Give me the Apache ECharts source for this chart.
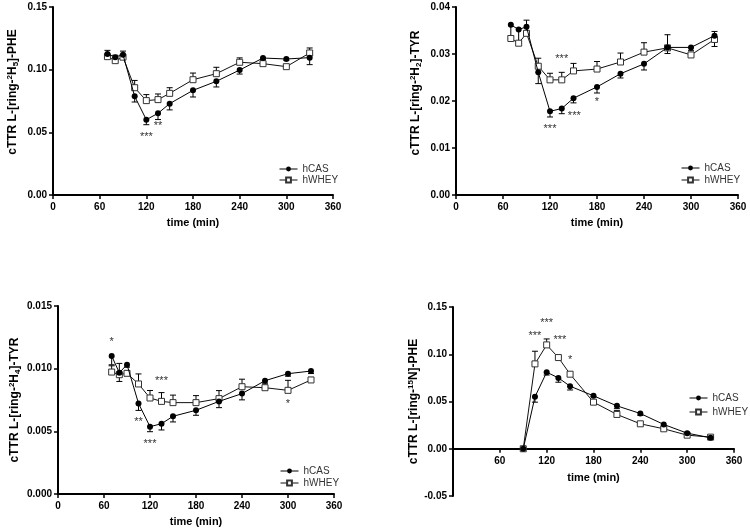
<!DOCTYPE html>
<html><head><meta charset="utf-8">
<script src="https://cdn.jsdelivr.net/npm/echarts@6/dist/echarts.min.js"></script>
<style>html,body{margin:0;padding:0;background:#fff}#c{width:750px;height:531px}</style>
</head><body><div id="c"></div>
<script>
// ---- data ----
const timeA = [70, 80, 90, 105, 120, 135, 150, 180, 210, 240, 270, 300, 330];
const timeB = [90, 105, 120, 135, 150, 180, 210, 240, 270, 300, 330];

// Panel 1: L-[ring-2H5]-PHE
const p1Cas      = [0.1125, 0.110, 0.112, 0.0787, 0.0601, 0.0652, 0.0729, 0.0835, 0.0907, 0.0997, 0.1093, 0.1085, 0.1096];
const p1CasErr   = [0.001, 0.003, 0.001, 0.0045, 0.004, 0.005, 0.005, 0.0053, 0.0045, 0.0032, 0.001, 0.001, 0.0056];
const p1Whey     = [0.1104, 0.1072, 0.110, 0.0856, 0.0753, 0.0761, 0.0811, 0.092, 0.0968, 0.1059, 0.1048, 0.1024, 0.1133];
const p1WheyErr  = [0.005, 0.0043, 0.0048, 0.0058, 0.0048, 0.0045, 0.0045, 0.0053, 0.0051, 0.0035, 0.001, 0.001, 0.004];
const p1Stars    = [[120, 0.046, '***'], [135, 0.0548, '**']];

// Panel 2: L-[ring-2H2]-TYR
const p2Cas      = [0.0362, 0.0352, 0.0358, 0.0261, 0.0178, 0.0184, 0.0206, 0.0230, 0.0258, 0.0279, 0.0314, 0.0314, 0.0339];
const p2CasErr   = [0.003, 0.003, 0.001, 0.0024, 0.0012, 0.0011, 0.001, 0.0013, 0.0009, 0.0013, 0.0013, 0.0007, 0.0023];
const p2Whey     = [0.0333, 0.0323, 0.0344, 0.0274, 0.0245, 0.0245, 0.0264, 0.0268, 0.0283, 0.0304, 0.0313, 0.0298, 0.0331];
const p2WheyErr  = [0.0005, 0.0004, 0.0028, 0.0017, 0.0014, 0.0016, 0.0016, 0.0016, 0.0019, 0.002, 0.0028, 0.0004, 0.0017];
const p2Stars    = [[135, 0.029, '***'], [120, 0.014, '***'], [151, 0.0169, '***'], [180, 0.0199, '*']];

// Panel 3: L-[ring-2H4]-TYR
const p3Cas      = [0.01101, 0.00968, 0.01032, 0.00723, 0.00537, 0.00561, 0.00620, 0.00668, 0.00739, 0.00801, 0.00904, 0.00960, 0.00981];
const p3CasErr   = [0.0007, 0.0007, 0.0002, 0.00056, 0.0004, 0.0005, 0.00045, 0.0004, 0.0005, 0.0005, 0.0002, 0.0002, 0.0002];
const p3Whey     = [0.00973, 0.00952, 0.00963, 0.00878, 0.00766, 0.00739, 0.00729, 0.00729, 0.00761, 0.00856, 0.00848, 0.00827, 0.00910];
const p3WheyErr  = [0.0005, 0.0009, 0.0002, 0.0008, 0.0006, 0.0007, 0.0006, 0.00056, 0.00064, 0.0006, 0.0002, 0.0008, 0.0002];
const p3Stars    = [[70, 0.0121, '*'], [135, 0.0090, '***'], [105, 0.00577, '**'], [120, 0.0040, '***'], [300, 0.0072, '*']];

// Panel 4: L-[ring-15N]-PHE
const p4Cas      = [0, 0.0549, 0.0810, 0.0750, 0.0662, 0.0560, 0.0454, 0.0373, 0.0257, 0.0165, 0.0116];
const p4CasErr   = [0, 0.0056, 0.003, 0.0046, 0.004, 0.001, 0.003, 0.002, 0.002, 0.001, 0.001];
const p4Whey     = [0, 0.0898, 0.1099, 0.0965, 0.0789, 0.0493, 0.0363, 0.0264, 0.0211, 0.0144, 0.0123];
const p4WheyErr  = [0, 0.0134, 0.0063, 0.002, 0.002, 0.002, 0.004, 0.001, 0.001, 0.001, 0.001];
const p4Stars    = [[105, 0.1197, '***'], [120, 0.1331, '***'], [137, 0.1148, '***'], [150, 0.094, '*']];

const yNames = [
  'cTTR L-[ring-{sup|2}H{sub|5}]-PHE',
  'cTTR L-[ring-{sup|2}H{sub|2}]-TYR',
  'cTTR L-[ring-{sup|2}H{sub|4}]-TYR',
  'cTTR L-[ring-{sup|15}N]-PHE'
];
const yRanges = [[0, 0.15, 0.05, 2], [0, 0.04, 0.01, 2], [0, 0.015, 0.005, 3], [-0.05, 0.15, 0.05, 2]];

// ---- layout ----
const FONT = '"Liberation Sans", Arial, sans-serif';
const grids = [
  {left: 53, top: 7, width: 280, height: 188},
  {left: 456, top: 7, width: 282, height: 188},
  {left: 58, top: 306, width: 276, height: 188},
  {left: 453, top: 307, width: 281, height: 189}
];
const yNameGaps = [33, 33, 36, 31];
const yNameShift = [18, 16, 0, 0];
const xNameGaps = [22, 22, 22, -24];
const xLabelMargins = [7, 7, 7, -40];
const legendPos = [
  {left: 274, top: 159, itemGap: 1},
  {left: 676, top: 158, itemGap: 2},
  {left: 275, top: 461, itemGap: 2},
  {left: 684, top: 388, itemGap: 4}
];

const panels = [
  {t: timeA, cas: p1Cas, casE: p1CasErr, whey: p1Whey, wheyE: p1WheyErr, stars: p1Stars},
  {t: timeA, cas: p2Cas, casE: p2CasErr, whey: p2Whey, wheyE: p2WheyErr, stars: p2Stars},
  {t: timeA, cas: p3Cas, casE: p3CasErr, whey: p3Whey, wheyE: p3WheyErr, stars: p3Stars},
  {t: timeB, cas: p4Cas, casE: p4CasErr, whey: p4Whey, wheyE: p4WheyErr, stars: p4Stars}
];

function errRender(dir) {
  return function (params, api) {
    const x = api.value(0), y = api.value(1), e = api.value(2);
    if (!e) return null;
    const p0 = api.coord([x, y]);
    const p1 = api.coord([x, y + dir * e]);
    const w = 3;
    return {type: 'group', children: [
      {type: 'line', shape: {x1: p0[0], y1: p0[1], x2: p1[0], y2: p1[1]}, style: {stroke: '#000', lineWidth: 1}},
      {type: 'line', shape: {x1: p1[0] - w, y1: p1[1], x2: p1[0] + w, y2: p1[1]}, style: {stroke: '#000', lineWidth: 1}}
    ]};
  };
}
function starRender(params, api) {
  const p = api.coord([api.value(0), api.value(1)]);
  return {type: 'text', x: p[0], y: p[1], style: {
    text: String(api.value(2)), fill: '#333', font: '11px ' + FONT, align: 'center', verticalAlign: 'middle'
  }};
}

const xAxis = [], yAxis = [], series = [], legend = [];
panels.forEach((pn, i) => {
  const r = yRanges[i];
  xAxis.push({
    type: 'value', gridIndex: i, min: 0, max: 360, interval: 60,
    name: 'time (min)', nameLocation: 'middle', nameGap: xNameGaps[i],
    nameTextStyle: {fontFamily: FONT, fontWeight: 'bold', fontSize: 11, color: '#000'},
    axisLine: {onZero: true, lineStyle: {color: '#000', width: 2}},
    axisTick: {show: true, length: 4, lineStyle: {color: '#000', width: 1.5}},
    axisLabel: {fontFamily: FONT, fontWeight: 'bold', fontSize: 10, color: '#000', margin: xLabelMargins[i], showMinLabel: i !== 3},
    splitLine: {show: false}
  });
  yAxis.push({
    type: 'value', gridIndex: i, min: r[0], max: r[1], interval: r[2],
    name: yNames[i], nameLocation: 'middle', nameGap: yNameGaps[i], nameRotate: 90,
    nameTextStyle: {fontFamily: FONT, fontWeight: 'bold', fontSize: 12, color: '#000', lineHeight: 14,
      padding: [0, 0, 0, yNameShift[i]],
      rich: {
        sup: {fontFamily: FONT, fontWeight: 'bold', fontSize: 8, color: '#000', verticalAlign: 'top', lineHeight: 14},
        sub: {fontFamily: FONT, fontWeight: 'bold', fontSize: 8, color: '#000', verticalAlign: 'bottom', lineHeight: 14}
      }},
    axisLine: {onZero: false, lineStyle: {color: '#000', width: 2}},
    axisTick: {show: true, length: 4, lineStyle: {color: '#000', width: 1.5}},
    axisLabel: {fontFamily: FONT, fontWeight: 'bold', fontSize: 10, color: '#000', margin: 6,
      formatter: v => v.toFixed(r[3])},
    splitLine: {show: false}
  });
  series.push({
    type: 'custom', xAxisIndex: i, yAxisIndex: i, z: 1, silent: true,
    renderItem: errRender(-1), encode: {x: 0, y: 1},
    data: pn.t.map((t, k) => [t, pn.cas[k], pn.casE[k]])
  });
  series.push({
    type: 'custom', xAxisIndex: i, yAxisIndex: i, z: 1, silent: true,
    renderItem: errRender(1), encode: {x: 0, y: 1},
    data: pn.t.map((t, k) => [t, pn.whey[k], pn.wheyE[k]])
  });
  series.push({
    name: 'hCAS', type: 'line', xAxisIndex: i, yAxisIndex: i, z: 3,
    data: pn.t.map((t, k) => [t, pn.cas[k]]), symbol: 'circle', symbolSize: 6, showAllSymbol: true,
    itemStyle: {color: '#000'}, lineStyle: {color: '#000', width: 1}
  });
  series.push({
    name: 'hWHEY', type: 'line', xAxisIndex: i, yAxisIndex: i, z: 2,
    data: pn.t.map((t, k) => [t, pn.whey[k]]), symbol: 'rect', symbolSize: 6, showAllSymbol: true,
    itemStyle: {color: '#fff', borderColor: '#333', borderWidth: 1},
    lineStyle: {color: '#111', width: 1}
  });
  series.push({
    type: 'custom', xAxisIndex: i, yAxisIndex: i, z: 4, silent: true,
    renderItem: starRender, encode: {x: 0, y: 1},
    data: pn.stars
  });
  const lp = legendPos[i];
  legend.push({
    orient: 'vertical', left: lp.left, top: lp.top, itemGap: lp.itemGap,
    itemWidth: 18, itemHeight: 6, selectedMode: false,
    lineStyle: {width: 1},
    data: ['hCAS', 'hWHEY'],
    textStyle: {fontFamily: FONT, fontSize: 10, color: '#333'}
  });
});

const chart = echarts.init(document.getElementById('c'), null, {renderer: 'canvas'});
chart.setOption({
  animation: false,
  backgroundColor: '#fff',
  grid: grids,
  xAxis: xAxis,
  yAxis: yAxis,
  legend: legend,
  series: series
});
</script>
</body></html>
